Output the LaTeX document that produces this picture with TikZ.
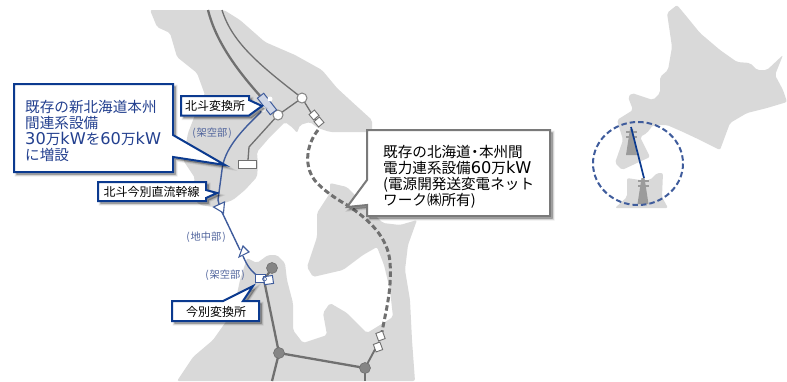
\documentclass[tikz,border=0pt]{standalone}
\usepackage{fontspec}
\setmainfont{Noto Sans CJK JP}
\newfontfamily\latf{DejaVu Sans}
\newcommand{\lat}[1]{{\latf\fontsize{16.2}{15.7}\selectfont #1}}
\definecolor{landc}{HTML}{D9D9D9}
\definecolor{linec}{HTML}{707070}
\definecolor{bluec}{HTML}{0B3A8F}
\definecolor{wirec}{HTML}{3F5C9C}
\definecolor{txtb}{HTML}{23408F}
\definecolor{labb}{HTML}{4F639C}
\definecolor{grayb}{HTML}{7A7A7A}
\tikzset{
 land/.style={fill=landc,draw=none,rounded corners=2pt},
 softshadow/.style={
   preaction={fill=black,draw=black,line width=4pt,opacity=.07,transform canvas={shift={(2.5pt,-2.5pt)}}},
   preaction={fill=black,draw=black,line width=2.5pt,opacity=.09,transform canvas={shift={(2.5pt,-2.5pt)}}},
   preaction={fill=black,draw=black,line width=1pt,opacity=.12,transform canvas={shift={(2.5pt,-2.5pt)}}}},
 bluecall/.style={fill=white,draw=bluec,line width=2pt,miter limit=6,softshadow},
 graycall/.style={fill=white,draw=grayb,line width=2pt,miter limit=6,softshadow},
 bigtxt/.style={inner sep=0pt,anchor=north west,align=left,font=\fontsize{14.6}{15.7}\selectfont},
 smalltxt/.style={inner sep=0pt,font=\fontsize{12}{14}\selectfont,text=black},
 lab/.style={inner sep=0pt,font=\fontsize{10.2}{10}\selectfont,text=labb},
 gline/.style={draw=linec,line width=2.3pt},
 tline/.style={draw=linec,line width=1.3pt},
 wire/.style={draw=wirec,line width=1.4pt},
 wnode/.style={circle,fill=white,draw=linec!85!white,line width=1pt,minimum size=10pt,inner sep=0pt},
 gnode/.style={circle,fill=linec!85!white,draw=linec,line width=.6pt,minimum size=11pt,inner sep=0pt},
 bbox/.style={fill=white,draw=wirec,line width=1pt},
 kbox/.style={fill=white,draw=linec,line width=.9pt},
 tri/.style={fill=white,draw=wirec,line width=1.1pt,line join=miter},
 tower/.style={fill=linec!70!white,draw=none},
}
\begin{document}
\begin{tikzpicture}[x=1pt,y=-1pt]
\useasboundingbox (0,0) rectangle (787,381);
% Hokkaido (south, enlarged)
\fill[land] (150,10) -- (157,27) -- (170,33) -- (177,57) -- (197,73) -- (205,95) -- (195,115) -- (188,133) -- (183,160) -- (195,178) -- (190,195) -- (200,205) -- (213,207) -- (233,200) -- (245,190) -- (257,177) -- (258,165) -- (257,152) -- (270,137) -- (285,122) -- (293,128) -- (297,133) -- (300,125) -- (310,122) -- (318,128) -- (330,132) -- (372,132) -- (372,120) -- (350,100) -- (337,88) -- (322,70) -- (295,55) -- (265,42) -- (240,20) -- (224,10) -- cycle;
% Honshu (north, enlarged)
\fill[land] (177,381) -- (193,357) -- (213,340) -- (225,323) -- (233,313) -- (240,280) -- (247,258) -- (257,263) -- (268,255) -- (277,255) -- (285,263) -- (287,280) -- (293,303) -- (293,330) -- (303,343) -- (327,335) -- (323,313) -- (330,303) -- (347,313) -- (367,333) -- (393,317) -- (390,290) -- (384,265) -- (377,247) -- (363,255) -- (343,270) -- (313,277) -- (307,267) -- (317,237) -- (317,213) -- (330,193) -- (330,183) -- (347,187) -- (365,205) -- (383,223) -- (400,225) -- (417,220) -- (408,245) -- (405,270) -- (410,300) -- (412,340) -- (415,381) -- cycle;
% Overview map
\fill[land] (667,13) -- (677,5) -- (687,17) -- (700,33) -- (720,50) -- (737,62) -- (750,63) -- (757,70) -- (767,70) -- (783,55) -- (775,75) -- (783,90) -- (787,102) -- (767,108) -- (747,113) -- (730,123) -- (720,150) -- (700,140) -- (683,132) -- (667,125) -- (653,125) -- (647,133) -- (640,137) -- (650,157) -- (637,163) -- (622,170) -- (615,163) -- (623,140) -- (617,120) -- (633,110) -- (628,97) -- (632,93) -- (653,100) -- (660,93) -- (660,77) -- (668,70) -- (672,47) -- cycle;
\fill[land] (615,208) -- (627,197) -- (627,178) -- (640,180) -- (650,180) -- (657,173) -- (663,173) -- (662,197) -- (668,208) -- cycle;
% Towers
\foreach \tx/\ty in {631.5/129,643/178}{
 \fill[tower] (\tx-1.5,\ty) -- (\tx+1.5,\ty) -- (\tx+5.5,\ty+26) -- (\tx-5.5,\ty+26) -- cycle;
 \fill[tower] (\tx-5.5,\ty+2) rectangle (\tx+5.5,\ty+3.5);
 \fill[tower] (\tx-5.5,\ty+7) rectangle (\tx+5.5,\ty+8.5);
}
\coordinate (ovA) at (631,127); \coordinate (ovB) at (644,178);
\draw[draw=bluec,line width=1.7pt] (ovA) -- (ovB);
\draw[draw=wirec,line width=2pt,dash pattern=on 5.5pt off 3pt] (638,163.5) ellipse [x radius=45,y radius=41.5];
% Power lines
\coordinate (n1) at (208,10); \coordinate (n2) at (222,10);
\coordinate (p1) at (302,98); \coordinate (p2) at (278,115);
\coordinate (q0) at (272,268); \coordinate (q1) at (279,353); \coordinate (q2) at (365,368);
\coordinate (e1) at (272,381); \coordinate (e2) at (365,381);
\coordinate (hkt) at (265,106); \coordinate (imb) at (264,280);
\coordinate (kaiN) at (318,124); \coordinate (kaiS) at (379,342);
\draw[gline] (n1) .. controls (216,42) and (238,74) .. (p2);
\draw[tline] (n2) .. controls (232,42) and (258,64) .. (p1);
\draw[tline] (p1) -- (p2);
\draw[tline] (p2) -- (249,147) -- (248,160);
\node[fill=white,draw=linec,line width=1pt,minimum width=18pt,minimum height=8pt,inner sep=0pt] (rectA) at (247,164) {};
\draw[tline] (p1) -- (kaiN);
\draw[gline] (q0) -- (imb);
\draw[gline] (imb) -- (q1);
\draw[gline] (q1) -- (q2);
\draw[gline] (q1) -- (e1);
\draw[gline] (q2) -- (e2);
\draw[tline,line width=1.9pt] (kaiS) -- (q2);
\node[wnode] (nw1) at (p1) {};
\node[wnode] (nw2) at (p2) {};
\node[gnode] (ng0) at (q0) {};
\node[gnode] (ng1) at (q1) {};
\node[gnode] (ng2) at (q2) {};
% Dashed interconnector
\draw[draw=linec,line width=3pt,dash pattern=on 5.5pt off 3pt] (kaiN)++(0,6) .. controls (306,145) and (303,168) .. (317,183) .. controls (328,194) and (340,201) .. (347,205) .. controls (370,220) and (388,238) .. (390,262) .. controls (392,290) and (386,310) .. (382,332);
% Blue DC line
\coordinate (b1) at (260,113); \coordinate (b2) at (218,200); \coordinate (b3) at (243,256);
\draw[wire] (hkt) -- (b1) .. controls (240,132) and (224,150) .. (222,170) .. controls (220,185) and (219,192) .. (b2);
\draw[wire] (b2) -- (220,208) -- (240,250);
\draw[wire] (b3) .. controls (247,265) and (250,272) .. (imb);
% Triangles
\draw[tri] (213.5,207) -- (224.5,202) -- (223.5,213) -- cycle;
\draw[tri] (243,246) -- (249,252) -- (239,257) -- cycle;
% Stations
\draw[bbox,fill=wirec!25!white,rotate around={38:(267,104)}] (263,93.5) rectangle (271,114.5);
\fill[white] (263,109) circle (3);
\fill[white] (270,99) circle (2.5);
\draw[bbox] (255.5,274.5) rectangle (265,282);
\draw[bbox,rotate around={8:(269,280)}] (264,276) rectangle (273,284);
\draw[wirec,line width=.6pt] (264.5,279) circle (2);
\draw[kbox,rotate around={40:(314,115)}] (310.5,111.5) rectangle (317.5,118.5);
\draw[kbox,rotate around={40:(319,122)}] (315.5,118.5) rectangle (322.5,125.5);
\draw[kbox,rotate around={20:(380.5,336)}] (377,332) rectangle (384,340);
\draw[kbox,rotate around={20:(378,347)}] (374.5,343) rectangle (381.5,351);
% Labels
\node[lab] (l1) at (212,133) {(\kern1pt架空部\kern1pt)};
\node[lab] (l2) at (206,237) {(\kern1pt地中部\kern1pt)};
\node[lab] (l3) at (225,275) {(\kern1pt架空部\kern1pt)};
% Callouts
\draw[bluecall] (14,84) -- (173,84) -- (173,135) -- (225,165) -- (173,157) -- (173,172) -- (14,172) -- cycle;
\node[bigtxt,text=txtb] (main) at (25,100.5) {既存の新北海道本州\\間連系設備\\\lat{30}万\lat{kW}を\lat{60}万\lat{kW}\\に増設};
\draw[bluecall] (181,96) -- (249,96) -- (249,100) -- (262,106) -- (249,115.5) -- (181,115.5) -- cycle;
\node[smalltxt] (hokuto) at (215,106) {北斗変換所};
\draw[bluecall] (98,182) -- (206,182) -- (206,190) -- (217,193) -- (206,198) -- (206,201) -- (98,201) -- cycle;
\node[smalltxt] (hokima) at (151.5,192) {北斗今別直流幹線};
\draw[bluecall] (172,301) -- (223,301) -- (253,286) -- (243,301) -- (259,301) -- (259,321) -- (172,321) -- cycle;
\node[smalltxt] (imab) at (216,312) {今別変換所};
\draw[graycall] (367,130) -- (550,130) -- (550,216) -- (367,216) -- (367,205) -- (347,207) -- (367,180) -- cycle;
\node[bigtxt,text=black] (kita) at (383,145.5) {既存の北海道\kern-3.2pt・\kern-3.2pt本州間\\電力連系設備\lat{60}万\lat{kW}\\(電源開発送変電ネット\\ワーク㈱所有)};
\end{tikzpicture}
\end{document}
